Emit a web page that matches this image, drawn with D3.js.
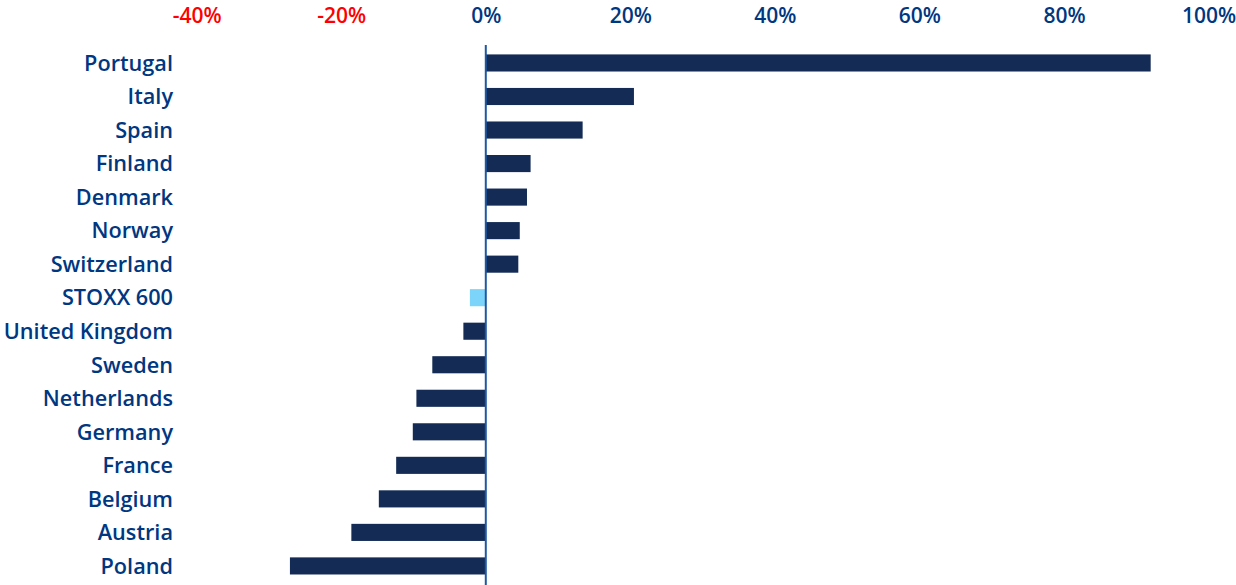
<!DOCTYPE html>
<html>
<head>
<meta charset="utf-8">
<script src="https://cdn.jsdelivr.net/npm/d3@7"></script>
<style>
  body { margin: 0; background: #fff; }
  svg text { font-family: "Open Sans", sans-serif; font-weight: 600; }
</style>
</head>
<body>
<svg width="1236" height="585"></svg>
<script>
// data
const countries = ["Portugal", "Italy", "Spain", "Finland", "Denmark", "Norway", "Switzerland",
  "STOXX 600", "United Kingdom", "Sweden", "Netherlands", "Germany", "France", "Belgium", "Austria", "Poland"];
const values = [92.0, 20.5, 13.4, 6.2, 5.7, 4.7, 4.5, -2.2, -3.1, -7.4, -9.6, -10.1, -12.4, -14.8, -18.6, -27.1];
const xTicks = [-40, -20, 0, 20, 40, 60, 80, 100];
const highlight = "STOXX 600";

const data = countries.map((c, i) => ({ name: c, value: values[i] }));

const svg = d3.select("svg");

const x = d3.scaleLinear()
  .domain([-40, 100])
  .range([196.7, 1208.5]);

const y = d3.scaleBand()
  .domain(countries)
  .range([46.2, 582.7])
  .paddingInner(0.49)
  .paddingOuter(0.245);

// top axis, labels only
const xAxis = svg.append("g")
  .attr("transform", "translate(0,23)")
  .call(d3.axisTop(x).tickValues(xTicks).tickSize(0).tickPadding(0).tickFormat(d => d + "%"));
xAxis.select(".domain").remove();
xAxis.selectAll("text")
  .style("font-size", "21px")
  .attr("fill", d => d < 0 ? "#ff0000" : "#003781");

// bars
svg.append("g")
  .selectAll("rect")
  .data(data)
  .join("rect")
    .attr("x", d => x(Math.min(0, d.value)))
    .attr("y", d => y(d.name))
    .attr("width", d => Math.abs(x(d.value) - x(0)))
    .attr("height", y.bandwidth())
    .attr("fill", d => d.name === highlight ? "#7dd4fb" : "#132b55");

// zero line
svg.append("line")
  .attr("x1", x(0)).attr("x2", x(0))
  .attr("y1", 45).attr("y2", 585)
  .attr("stroke", "#1f57a3")
  .attr("stroke-width", 2);

// category labels
svg.append("g")
  .selectAll("text")
  .data(countries)
  .join("text")
    .attr("x", 173)
    .attr("y", d => y(d) + y.bandwidth() / 2)
    .attr("dy", "0.36em")
    .attr("text-anchor", "end")
    .attr("fill", "#003781")
    .style("font-size", "21.7px")
    .text(d => d);
</script>
</body>
</html>
